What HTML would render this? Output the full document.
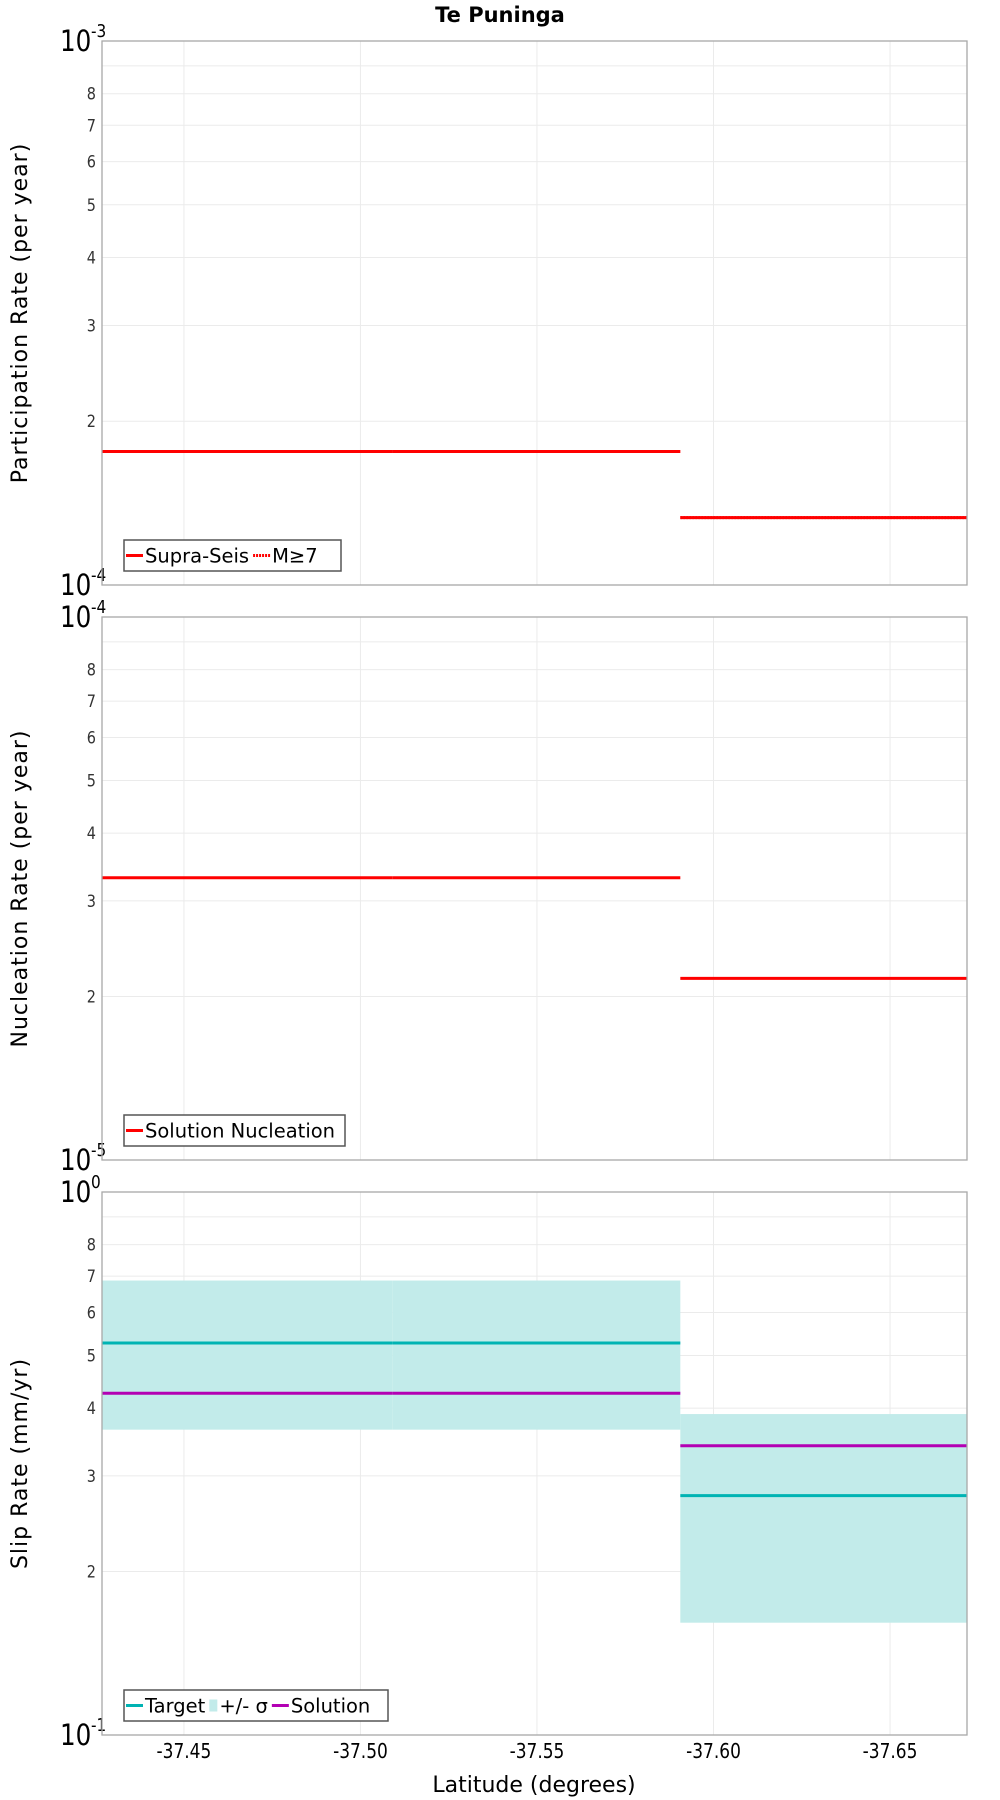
<!DOCTYPE html>
<html><head><meta charset="utf-8"><style>
html,body{margin:0;padding:0;background:#fff}
svg{display:block;font-family:"DejaVu Sans","Liberation Sans",sans-serif}
</style></head><body>
<svg id="chart" width="1000" height="1800" viewBox="0 0 1000 1800" xmlns="http://www.w3.org/2000/svg">
<text x="500" y="22" text-anchor="middle" font-size="21" font-weight="bold">Te Puninga</text>
<g id="plots"></g>
</svg>
<script>
// Data
const segStarts = [-37.4268, -37.509, -37.5906];
const segEnds = [-37.509, -37.5906, -37.6718];
const partRates = [1.76e-4, 1.76e-4, 1.33e-4];
const nuclRates = [3.31e-5, 3.31e-5, 2.16e-5];
const slipTarget = [0.527, 0.527, 0.276];
const slipSolution = [0.426, 0.426, 0.341];
const slipUpper = [0.687, 0.687, 0.390];
const slipLower = [0.365, 0.365, 0.161];
const xTicks = [-37.45, -37.50, -37.55, -37.60, -37.65];
const xTickLabels = ["-37.45", "-37.50", "-37.55", "-37.60", "-37.65"];
const minorMultipliers = [2,3,4,5,6,7,8,9];
const minorLabels = ["2","3","4","5","6","7","8",""];

const NS = "http://www.w3.org/2000/svg";
const L = 102, R = 967;
const X0 = -37.4268, X1 = -37.6718;
function xs(v){ return L + (v - X0) / (X1 - X0) * (R - L); }
function mk(tag, attrs, parent){
  const e = document.createElementNS(NS, tag);
  for (const k in attrs) e.setAttribute(k, attrs[k]);
  parent.appendChild(e); return e;
}
const root = document.getElementById('plots');

const panels = [
  {top:41, bot:585, lo:-4, title:"Participation Rate (per year)", key:"participation"},
  {top:617, bot:1160, lo:-5, title:"Nucleation Rate (per year)", key:"nucleation"},
  {top:1192, bot:1735, lo:-1, title:"Slip Rate (mm/yr)", key:"slip"}
];

panels.forEach((p, pi) => {
  const g = mk('g', {}, root);
  
  
  const ys = v => p.bot - (Math.log10(v) - p.lo) * (p.bot - p.top);
  xTicks.forEach(t => {
    const ln = mk('line', {x1:xs(t), x2:xs(t), y1:p.top, y2:p.bot, stroke:'#ebebeb', 'stroke-width':1}, g);
    
    
  });
  minorMultipliers.forEach((m, i) => {
    const v = m * Math.pow(10, p.lo);
    const y = ys(v);
    const ln = mk('line', {x1:L, x2:R, y1:y, y2:y, stroke:'#ebebeb', 'stroke-width':1}, g);
    
    
    if (minorLabels[i]) {
      const t = mk('text', {x:0, y:0, transform:`translate(96 ${y+6}) scale(0.85 1)`, 'text-anchor':'end', 'font-size':17, fill:'#333'}, g);
      t.textContent = minorLabels[i];
      
      
    }
  });
  [[p.lo+1, p.top], [p.lo, p.bot]].forEach(([e, y]) => {
    const t = mk('text', {x:0, y:0, transform:`translate(60 ${y+10}) scale(0.85 1)`, 'font-size':29, fill:'#000'}, g);
    t.textContent = '10';
    
    
    const s = mk('text', {x:0, y:0, transform:`translate(91 ${y-4}) scale(0.85 1)`, 'font-size':18, fill:'#000'}, g);
    s.textContent = String(e);
    
    
  });
  const cy = (p.top + p.bot) / 2;
  const yt = mk('text', {x:0, y:0, transform:`translate(27 ${cy}) rotate(-90)`, 'text-anchor':'middle', 'font-size':22, 'letter-spacing':'1', fill:'#000'}, g);
  yt.textContent = p.title;
  
  

  const series = mk('g', {}, g);
  
  
  const seg = (vals, color, name, dash) => {
    vals.forEach((v, i) => {
      const a = {x1:xs(segStarts[i]), x2:xs(segEnds[i]), y1:ys(v), y2:ys(v), stroke:color, 'stroke-width':3};
      if (dash) a['stroke-dasharray'] = dash;
      const ln = mk('line', a, series);
      
      
    });
  };
  if (pi === 0) { seg(partRates, '#ff0000', 'supra-seis-line'); seg(partRates, '#ff0000', 'm7-line', '2 1'); }
  if (pi === 1) { seg(nuclRates, '#ff0000', 'solution-nucleation-line'); }
  if (pi === 2) {
    slipUpper.forEach((u, i) => {
      const r = mk('rect', {x:xs(segStarts[i]), y:ys(u), width:xs(segEnds[i]) - xs(segStarts[i]), height:ys(slipLower[i]) - ys(u), fill:'#c2ebea'}, series);
      
      
    });
    seg(slipTarget, '#00b3b3', 'target-line');
    seg(slipSolution, '#b300b3', 'solution-line');
  }
  const fr = mk('rect', {x:L, y:p.top, width:R-L, height:p.bot-p.top, fill:'none', stroke:'#a8a8a8', 'stroke-width':1.3}, g);
  
  

  const lg = mk('g', {}, g);
  
  
  const ly = p.bot - 45;
  const items = pi === 0 ? [['Supra-Seis','#ff0000',null,'line'],['M≥7','#ff0000','2 1','line']]
    : pi === 1 ? [['Solution Nucleation','#ff0000',null,'line']]
    : [['Target','#00b3b3',null,'line'],['+/- σ','#c2ebea',null,'box'],['Solution','#b300b3',null,'line']];
  const widths = pi === 0 ? 217 : pi === 1 ? 221 : 264;
  const box = mk('rect', {x:124, y:ly, width:widths, height:31, fill:'#fff', stroke:'#555', 'stroke-width':1.5}, lg);
  
  
  const entries = [];
  let cx = 126;
  items.forEach(([label, color, dash, kind]) => {
    const my = ly + 15.5;
    if (kind === 'line') {
      const a = {x1:cx, x2:cx+17, y1:my, y2:my, stroke:color, 'stroke-width':3};
      if (dash) a['stroke-dasharray'] = dash;
      const m = mk('line', a, lg);
      
      
      cx += 19;
    } else {
      const m = mk('rect', {x:cx, y:my-6, width:8, height:12, fill:color}, lg);
      
      
      cx += 10;
    }
    const t = mk('text', {x:cx, y:my+7, 'font-size':19.5, fill:'#000'}, lg);
    t.textContent = label;
    
    
    cx += t.getComputedTextLength() + 4;
  });
  box.setAttribute('width', Math.max(widths, cx - 124 + 2));
});

xTicks.forEach((t, i) => {
  const tx = mk('text', {x:0, y:0, transform:`translate(${xs(t)} 1758) scale(0.85 1)`, 'text-anchor':'middle', 'font-size':20, fill:'#000'}, root);
  tx.textContent = xTickLabels[i];
  
  
});
const xt = mk('text', {x:534, y:1792, 'text-anchor':'middle', 'font-size':22, fill:'#000'}, root);
xt.textContent = 'Latitude (degrees)';


</script>
</body></html>
